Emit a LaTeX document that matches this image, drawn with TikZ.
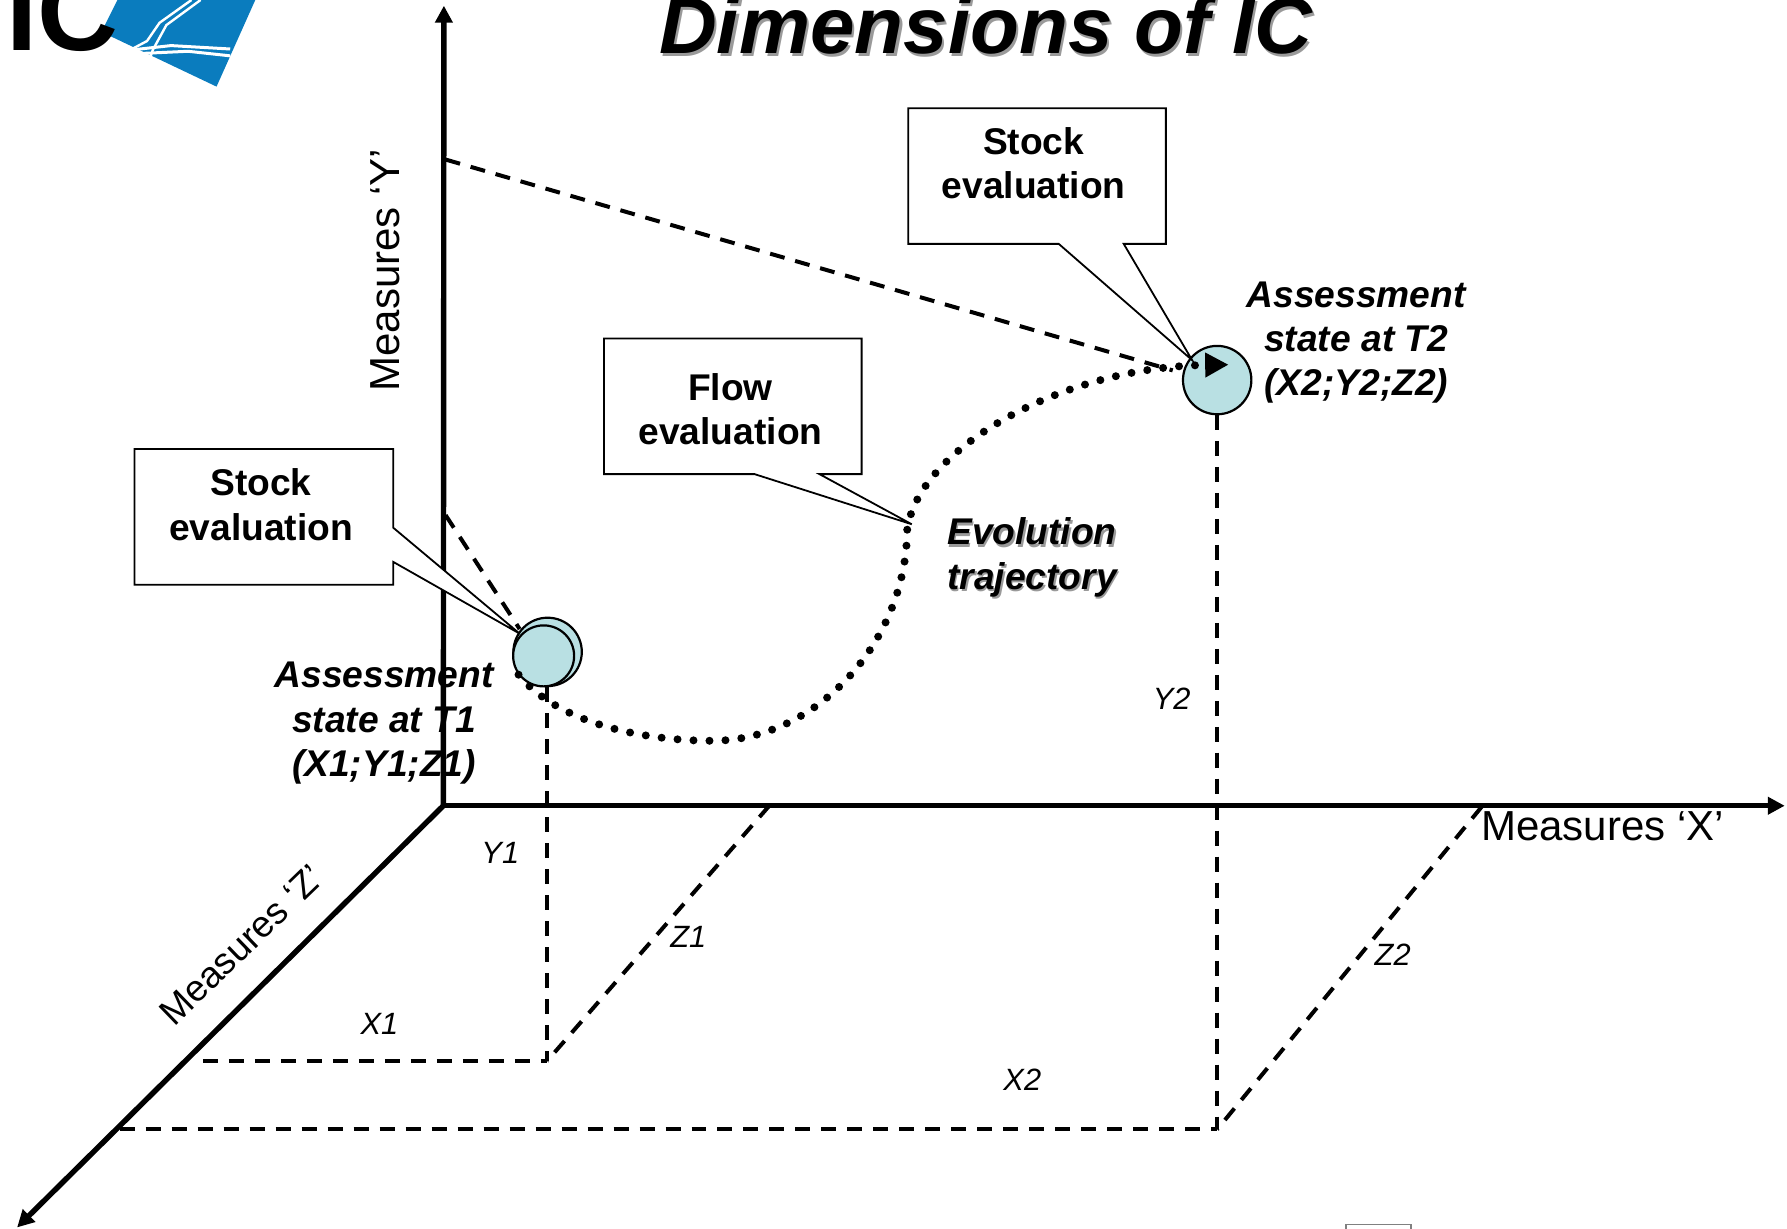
\documentclass[tikz,border=0pt]{standalone}
\usepackage{fontspec}
\setmainfont{Liberation Sans}
\usetikzlibrary{arrows.meta}
\definecolor{statefill}{HTML}{B9E0E3}
\definecolor{logoblue}{HTML}{0A7CBE}
\definecolor{shadowgray}{HTML}{9A9A9A}
\tikzset{
    axisline/.style={line width=2.7pt, -{Triangle[length=8.5pt,width=8.5pt]}},
    guideline/.style={line width=2pt, dash pattern=on 7.5pt off 5.5pt},
    calloutline/.style={line width=0.9pt, fill=white, line join=miter},
    stateball/.style={draw, circle, inner sep=0pt, line width=1.1pt, fill=statefill},
    boldlabel/.style={inner sep=0pt, align=center, font=\fontsize{18.6}{22.2}\selectfont\bfseries},
    itlabel/.style={boldlabel, font=\fontsize{18.6}{22.2}\selectfont\bfseries\itshape},
    axislabel/.style={inner sep=0pt, font=\fontsize{21}{24}\selectfont},
    smalllabel/.style={inner sep=0pt, font=\fontsize{15.4}{18}\selectfont\itshape}
}
\begin{document}
\begin{tikzpicture}[x=0.57pt, y=-0.57pt]
    \useasboundingbox (0,0) rectangle (1568,1078);
    \clip (0,0) rectangle (1568,1078);
    % logo
    \fill[logoblue] (103,0) -- (89,28) -- (190,76) -- (224,0) -- cycle;
    \draw[white, line width=1.2pt] (168,0) -- (140,20) -- (129,36) -- (114,44);
    \draw[white, line width=1.2pt] (176,0) -- (146,22) -- (134,44) -- (132,50);
    \draw[white, line width=1.5pt] (114,44) -- (150,40) -- (202,43);
    \draw[white, line width=1.5pt] (122,47) -- (165,45) -- (202,49);
    \node[inner sep=0pt, anchor=base west, font=\fontsize{56}{60}\selectfont\bfseries] (logotext) at (5,44.5) {IC};
    % title
    \node[inner sep=0pt, anchor=base, text=shadowgray, font=\fontsize{40}{44}\selectfont\bfseries\itshape] (titleshadow) at (867,49.5) {Dimensions of IC};
    \node[inner sep=0pt, anchor=base, font=\fontsize{40}{44}\selectfont\bfseries\itshape] (title) at (865,47) {Dimensions of IC};
    % axes
    \coordinate (origin) at (389,707);
    \coordinate (yend) at (389.5,5);
    \coordinate (xend) at (1566,707);
    \coordinate (zend) at (15,1077);
    \draw[axisline] (origin) -- (yend);
    \draw[axisline] (origin) -- (xend);
    \draw[axisline] (origin) -- (zend);
    \node[axislabel, rotate=90] (ylabel) at (338,237) {Measures ‘Y’};
    \node[axislabel] (xlabel) at (1406,725) {Measures ‘X’};
    \node[axislabel, rotate=44, font=\fontsize{18.5}{22}\selectfont] (zlabel) at (212,829) {Measures ‘Z’};
    % guides
    \coordinate (yonetop) at (391,452);
    \coordinate (ytwotop) at (391,140);
    \coordinate (ballonefoot) at (480,603);
    \coordinate (balltwofoot) at (1068,364);
    \coordinate (floorone) at (480,931);
    \coordinate (floortwo) at (1068,991);
    \coordinate (xonetick) at (178,931);
    \coordinate (xtwotick) at (105,991);
    \coordinate (zonetick) at (675,707);
    \coordinate (ztwotick) at (1300,708);
    \coordinate (balloneedge) at (456,552);
    \coordinate (balltwoedge) at (1029,325);
    \draw[guideline] (ytwotop) -- (balltwoedge);
    \draw[guideline] (yonetop) -- (balloneedge);
    \draw[guideline] (ballonefoot) -- (floorone);
    \draw[guideline] (balltwofoot) -- (floortwo);
    \draw[guideline] (xonetick) -- (floorone);
    \draw[guideline] (xtwotick) -- (floortwo);
    \draw[guideline] (zonetick) -- (floorone);
    \draw[guideline] (ztwotick) -- (floortwo);
    % states
    \node[stateball, minimum size=34.2pt] (balltwo) at (1068,333.5) {};
    \node[stateball, minimum size=34.2pt] (ballone) at (480.5,572) {};
    \node[stateball, minimum size=30.5pt] (ballonefront) at (477,575.5) {};
    % trajectory
    \coordinate (trajstart) at (455,592);
    \coordinate (trajlow) at (625,650);
    \coordinate (trajmid) at (796,465);
    \coordinate (trajend) at (1078,320);
    \draw[line width=4pt, line cap=round, dash pattern=on 0pt off 8pt,
          -{Triangle[length=11.7pt,width=11.7pt,sep=0pt]}]
        (trajstart) .. controls (490,635) and (565,650) .. (trajlow)
        .. controls (715,650) and (795,565) .. (trajmid)
        .. controls (805,395) and (930,322) .. (trajend);
    % callouts
    \coordinate (tiptwo) at (1046,316);
    \coordinate (tipflow) at (800,460);
    \coordinate (tipone) at (456,556);
    \draw[calloutline] (797,95) -- (1023,95) -- (1023,214) -- (986,214) -- (tiptwo) -- (929,214) -- (797,214) -- cycle;
    \draw[calloutline] (530,297) -- (756,297) -- (756,416) -- (719,416) -- (tipflow) -- (662,416) -- (530,416) -- cycle;
    \draw[calloutline] (118,394) -- (345,394) -- (345,463) -- (tipone) -- (345,493) -- (345,513) -- (118,513) -- cycle;
    \node[boldlabel] (stocktwo) at (907,143) {Stock\\evaluation};
    \node[boldlabel] (flow) at (641,359) {Flow\\evaluation};
    \node[boldlabel] (stockone) at (229,443) {Stock\\evaluation};
    % state labels
    \node[itlabel] (stateone) at (337,634.5) {Assessment\\state at T1\\(X1;Y1;Z1)};
    \node[itlabel] (statetwo) at (1190,300.5) {Assessment\\state at T2\\(X2;Y2;Z2)};
    \node[itlabel, text=shadowgray] (evolshadow) at (907,491) {Evolution\\trajectory};
    \node[itlabel] (evol) at (905.5,489) {Evolution\\trajectory};
    % measures
    \node[smalllabel] (xone) at (333,898) {X1};
    \node[smalllabel] (xtwo) at (897,947) {X2};
    \node[smalllabel] (yone) at (439,748) {Y1};
    \node[smalllabel] (ytwo) at (1028,613) {Y2};
    \node[smalllabel] (zone) at (604,822) {Z1};
    \node[smalllabel] (ztwo) at (1222,838) {Z2};
    % cut-off mark at the lower edge
    \draw[gray, line width=0.6pt] (1181,1082) rectangle (1238,1074.5);
\end{tikzpicture}
\end{document}
